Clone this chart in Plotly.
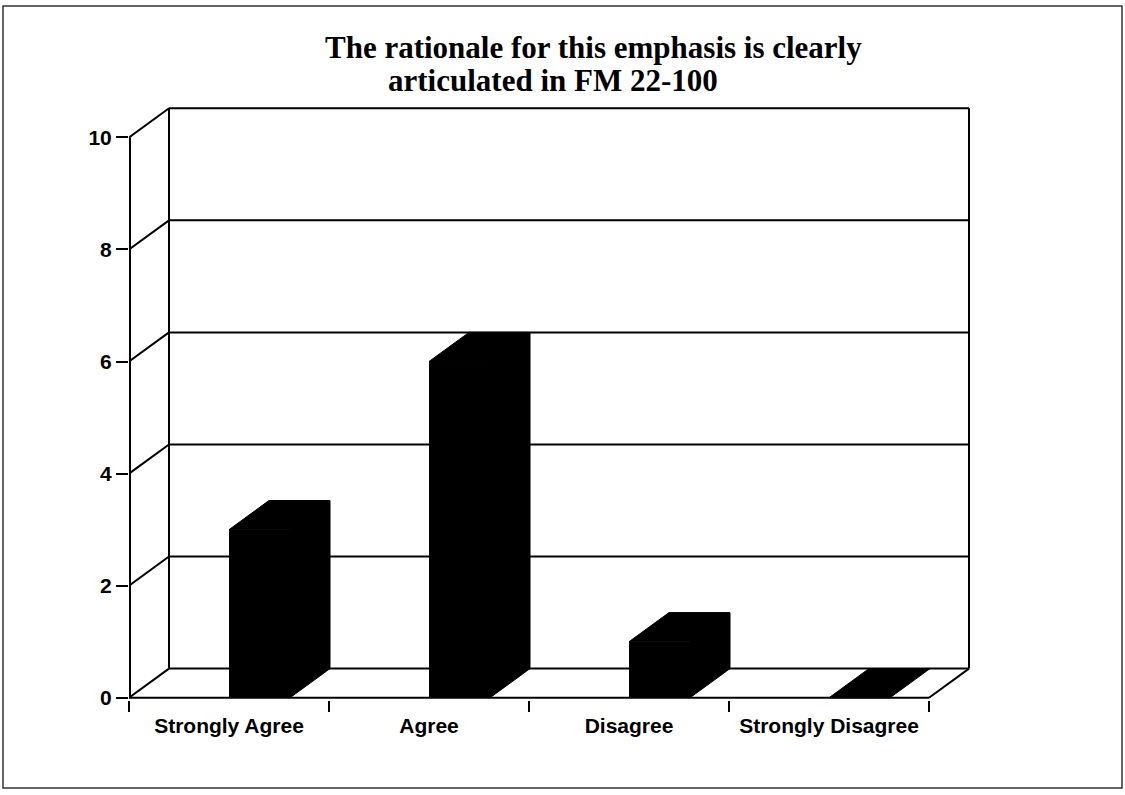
import plotly.graph_objects as go

# Survey responses
categories = ["Strongly Agree", "Agree", "Disagree", "Strongly Disagree"]
values = [3, 6, 1, 0]
y_ticks = [0, 2, 4, 6, 8, 10]
title_lines = ["The rationale for this emphasis is clearly", "articulated in FM 22-100"]

# Oblique depth of the pseudo-3D box (x in category units, y in value units)
DX, DY = 0.2, 0.52
BAR_W = 0.305
N = len(categories)
YMAX = y_ticks[-1]

fig = go.Figure()

# Walls, floor and grid lines
wx, wy = [], []
def seg(x0, y0, x1, y1):
    wx.extend([x0, x1, None])
    wy.extend([y0, y1, None])

seg(DX, DY, DX, YMAX + DY)              # back wall, left edge
seg(N + DX, DY, N + DX, YMAX + DY)      # back wall, right edge
for v in y_ticks:
    seg(0, v, DX, v + DY)               # side wall diagonals
    seg(DX, v + DY, N + DX, v + DY)     # back wall grid lines
seg(0, 0, N, 0)                         # floor front edge
seg(N, 0, N + DX, DY)                   # floor right edge

fig.add_trace(go.Scatter(x=wx, y=wy, mode="lines",
                         line=dict(color="black", width=2),
                         hoverinfo="skip", showlegend=False))

# Front value axis (sits on the plot edge, so drawn wider to keep 2px visible)
fig.add_trace(go.Scatter(x=[0, 0], y=[0, YMAX], mode="lines",
                         line=dict(color="black", width=4),
                         hoverinfo="skip", showlegend=False))

# Front faces of the bars
centers = [i + 0.5 for i in range(N)]
fig.add_trace(go.Bar(x=[c + BAR_W / 2 for c in centers], y=values, base=0,
                     width=BAR_W, marker=dict(color="black", line=dict(width=0)),
                     hoverinfo="skip", showlegend=False))

# Top and side faces of the bars
for c, v in zip(centers, values):
    x0, x1 = c, c + BAR_W
    px = [x1, x1 + DX, x1 + DX, x0 + DX, x0, x1]
    py = [0, DY, v + DY, v + DY, v, v]
    fig.add_trace(go.Scatter(x=px, y=py, mode="lines", fill="toself",
                             fillcolor="black", line=dict(color="black", width=1),
                             hoverinfo="skip", showlegend=False))

label_font = dict(family="Liberation Sans, Arial", size=21, color="black", weight="bold")
title_font = dict(family="Liberation Serif, Times New Roman", size=31,
                  color="black", weight="bold")

fig.update_layout(
    width=1125, height=795,
    margin=dict(l=129, r=152, t=106, b=95),
    paper_bgcolor="white", plot_bgcolor="white",
    bargap=0,
    xaxis=dict(
        range=[0, N + DX + 0.02],
        tickvals=centers, ticktext=categories, ticks="",
        ticklabelstandoff=11,
        tickfont=label_font, showgrid=False, zeroline=False, showline=False,
        minor=dict(tickvals=list(range(N + 1)), ticks="outside", ticklen=11,
                   tickwidth=2, tickcolor="black", showgrid=False),
    ),
    yaxis=dict(
        range=[-0.04, 10.56],
        tickvals=y_ticks, ticks="outside", ticklen=12, tickwidth=2,
        tickcolor="black", tickfont=label_font,
        showgrid=False, zeroline=False, showline=False,
    ),
    shapes=[dict(type="rect", xref="paper", yref="paper",
                 x0=(3 - 129) / 844, x1=(1122 - 129) / 844,
                 y0=(700 - 788) / 594, y1=(700 - 6) / 594,
                 line=dict(color="#333", width=1.5))],
    annotations=[
        dict(text=title_lines[0], xref="paper", yref="paper",
             x=(323 - 129) / 844, y=(700 - 47) / 594,
             xanchor="left", yanchor="middle", showarrow=False, font=title_font),
        dict(text=title_lines[1], xref="paper", yref="paper",
             x=(386 - 129) / 844, y=(700 - 80) / 594,
             xanchor="left", yanchor="middle", showarrow=False, font=title_font),
    ],
)

fig.write_html("out.html")
